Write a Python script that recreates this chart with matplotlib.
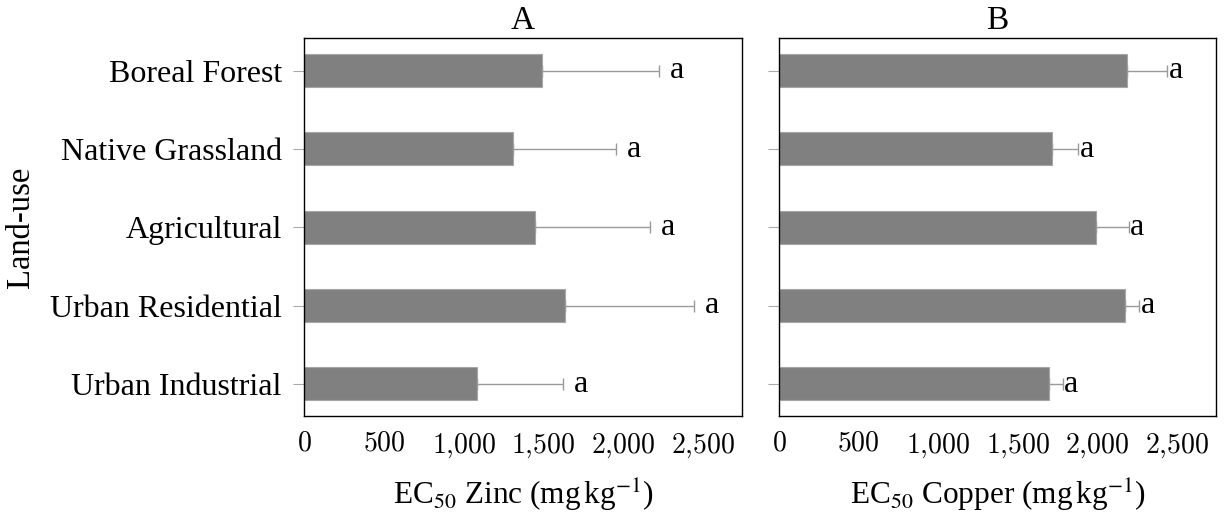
import numpy as np
import matplotlib
matplotlib.use("Agg")
import matplotlib.pyplot as plt
from matplotlib.ticker import FuncFormatter

plt.rcParams['font.family'] = ['Liberation Serif', 'DejaVu Serif']
plt.rcParams['mathtext.fontset'] = 'stix'

# land-use classes, top to bottom
land_use = ["Boreal Forest", "Native Grassland", "Agricultural",
            "Urban Residential", "Urban Industrial"]

# EC50 means and upper error (mg/kg)
zinc_mean = [1489, 1308, 1449, 1633, 1084]
zinc_err = [737, 647, 719, 811, 537]
copper_mean = [2185, 1712, 1990, 2172, 1693]
copper_err = [254, 168, 205, 90, 90]

zinc_letters = ["a", "a", "a", "a", "a"]
copper_letters = ["a", "a", "a", "a", "a"]

xticks = [0, 500, 1000, 1500, 2000, 2500]


def tick_fmt(v, pos):
    s = "{:,}".format(int(v)).replace(",", "{,}")
    return "$" + s + "$"


def draw_panel(ax, means, errs, letters, title, xlabel, label_off, show_labels):
    y = np.arange(len(land_use))
    ax.barh(y, means, height=0.42, color="#808080", edgecolor="#a6a6a6", linewidth=0.8, zorder=2)
    ax.errorbar(means, y, xerr=[np.zeros(len(errs)), errs], fmt="none",
                ecolor="#9a9a9a", elinewidth=1.0, capsize=4, capthick=1.0, zorder=3)
    for yi, m, e, t in zip(y, means, errs, letters):
        ax.annotate(t, xy=(m + e, yi), xytext=(label_off, -5.5), textcoords="offset points",
                    ha="left", va="baseline", fontsize=23, zorder=4)
    ax.set_ylim(4.41, -0.41)
    ax.set_xlim(0, 2745)
    ax.set_yticks(y)
    if show_labels:
        ax.set_yticklabels(land_use, fontsize=23)
    else:
        ax.set_yticklabels([])
    ax.set_xticks(xticks)
    ax.xaxis.set_major_formatter(FuncFormatter(tick_fmt))
    ax.tick_params(axis="y", direction="out", length=8, width=0.8, color="#aaaaaa", pad=8)
    ax.tick_params(axis="x", length=0, pad=11, labelsize=20)
    for lab in ax.get_xticklabels():
        lab.set_math_fontfamily("cm")
    for sp in ax.spines.values():
        sp.set_linewidth(1.0)
        sp.set_color("black")
    ax.set_title(title, fontsize=24, pad=7)
    ax.set_xlabel(xlabel, fontsize=22.5, labelpad=12)


fig = plt.figure(figsize=(12.28, 5.14), dpi=100)
ax1 = fig.add_axes([0.2476, 0.1907, 0.3567, 0.7344])
ax2 = fig.add_axes([0.6344, 0.1907, 0.3559, 0.7344])

draw_panel(ax1, zinc_mean, zinc_err, zinc_letters, "A",
           r"EC$_{50}$ Zinc (mg$\,$kg$^{-1}$)", 8, True)
draw_panel(ax2, copper_mean, copper_err, copper_letters, "B",
           r"EC$_{50}$ Copper (mg$\,$kg$^{-1}$)", 1, False)

fig.text(0.017, 0.1907 + 0.7344 / 2, "Land-use", rotation=90, fontsize=23.5,
         ha="center", va="center")

fig.savefig("out.png", dpi=100)
